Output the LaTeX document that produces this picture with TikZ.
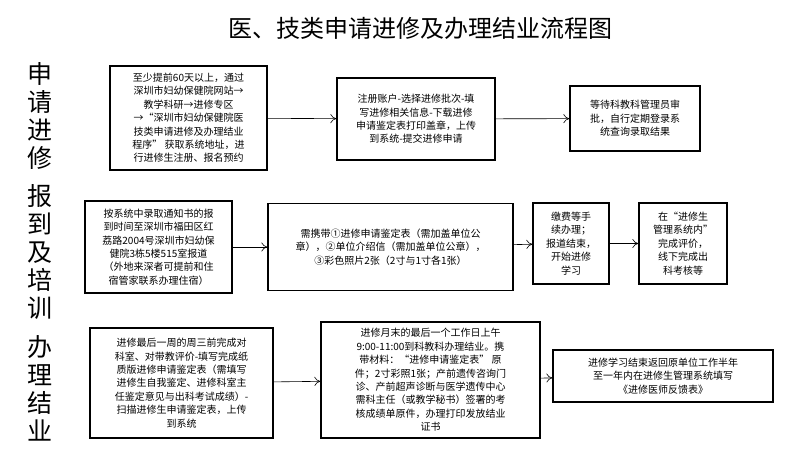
\documentclass[tikz,border=0pt]{standalone}
\usepackage{fontspec}
\setmainfont{Noto Sans CJK SC}
\usetikzlibrary{arrows.meta}
\begin{document}
\begin{tikzpicture}[x=1pt,y=-1pt,
  bx/.style={draw,line width=1.2pt,align=center,font=\fontsize{10}{13.4}\selectfont,inner sep=0pt},
  side/.style={align=center,font=\fontsize{25}{28}\selectfont},
  arr/.style={-{To[length=6pt,width=9pt]},line width=0.6pt}]
\useasboundingbox (0,0) rectangle (800,449);
\node (title) at (420,28) {\fontsize{24}{28}\selectfont 医、技类申请进修及办理结业流程图};
\node[side] (s1) at (40,116) {申\\请\\进\\修};
\node[side] (s2) at (40,252) {报\\到\\及\\培\\训};
\node[side] (s3) at (40,388) {办\\理\\结\\业};
% row 1
\node[bx,minimum width=157,minimum height=104] (a1) at (188.5,118) {至少提前60天以上，通过\\深圳市妇幼保健院网站→\\教学科研→进修专区\\→“深圳市妇幼保健院医\\技类申请进修及办理结业\\程序”\ 获取系统地址，进\\行进修生注册、报名预约};
\node[bx,minimum width=158,minimum height=82] (a2) at (416,119) {注册账户-选择进修批次-填\\写进修相关信息-下载进修\\申请鉴定表打印盖章，上传\\到系统-提交进修申请};
\node[bx,minimum width=130,minimum height=65] (a3) at (635,118.5) {等待科教科管理员审\\批，自行定期登录系\\统查询录取结果};
\draw[arr] (a1) -- (a2);
\draw[arr] (a2) -- (a3);
% row 2
\node[bx,minimum width=147,minimum height=92] (b1) at (158.5,247) {按系统中录取通知书的报\\到时间至深圳市福田区红\\荔路2004号深圳市妇幼保\\健院3栋5楼515室报道\\（外地来深者可提前和住\\宿管家联系办理住宿）};
\node[bx,minimum width=245,minimum height=87] (b2) at (390.5,247) {需携带①进修申请鉴定表（需加盖单位公\\章），②单位介绍信（需加盖单位公章），\\③彩色照片2张（2寸与1寸各1张）};
\node[bx,minimum width=76,minimum height=81] (b3) at (571,243.5) {缴费等手\\续办理；\\报道结束，\\开始进修\\学习};
\node[bx,minimum width=88,minimum height=81] (b4) at (683,243.5) {在“进修生\\管理系统内”\\完成评价，\\线下完成出\\科考核等};
\draw[arr] (b1) -- (b2);
\draw[arr] (b2) -- (b3);
\draw[arr] (b3) -- (b4);
% row 3
\node[bx,minimum width=183,minimum height=110] (c1) at (181.5,383) {进修最后一周的周三前完成对\\科室、对带教评价-填写完成纸\\质版进修申请鉴定表（需填写\\进修生自我鉴定、进修科室主\\任鉴定意见与出科考试成绩）-\\扫描进修生申请鉴定表，上传\\到系统};
\node[bx,minimum width=219,minimum height=116] (c2) at (430.5,380) {进修月末的最后一个工作日上午\\9:00-11:00到科教科办理结业。携\\带材料：“进修申请鉴定表”\ 原\\件；2寸彩照1张；产前遗传咨询门\\诊、产前超声诊断与医学遗传中心\\需科主任（或教学秘书）签署的考\\核成绩单原件，办理打印发放结业\\证书};
\node[bx,minimum width=220,minimum height=52] (c3) at (663,376) {进修学习结束返回原单位工作半年\\至一年内在进修生管理系统填写\\《进修医师反馈表》};
\draw[arr] (c1) -- (c2);
\draw[arr] (c2) -- (c3);
\end{tikzpicture}
\end{document}
